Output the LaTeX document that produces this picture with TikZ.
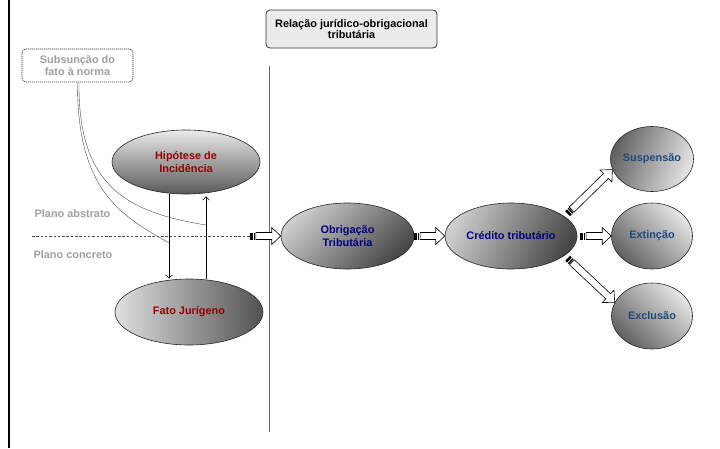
\documentclass[tikz,border=0pt]{standalone}
\usepackage{fontspec}
\setmainfont{Liberation Sans}
\usetikzlibrary{shapes.geometric,calc,decorations.markings,arrows.meta}
\definecolor{hiptext}{HTML}{990000}
\definecolor{obtext}{HTML}{000080}
\definecolor{exttext}{HTML}{1F497D}
\definecolor{softgray}{HTML}{A0A0A0}
\begin{document}
\begin{tikzpicture}[x=1pt,y=-1pt,
  txt/.style={font=\fontsize{10.9}{13}\selectfont\bfseries, align=center},
  ell/.style={ellipse, draw=black!85, line width=0.6pt, inner sep=0pt, txt},
  thinarrow/.style={draw=black, line width=0.6pt, -{Straight Barb[length=3.5pt,width=7pt]}},
  curveline/.style={draw=black!70, line width=0.4pt},
  stripearrow/.style={
    decoration={markings, mark=at position 0pt with {
      \pgfmathsetmacro{\arrlen}{\pgfdecoratedpathlength}
      \fill[black] (0pt,-3.5pt) rectangle (2.6pt,3.5pt);
      \fill[black] (3.6pt,-3.5pt) rectangle (5pt,3.5pt);
      \draw[black, line width=0.6pt, fill=white, line join=miter]
        (5.8pt,-3.5pt) -- ({\arrlen pt-9pt},-3.5pt) -- ({\arrlen pt-9pt},-8.5pt)
        -- ({\arrlen pt},0pt) -- ({\arrlen pt-9pt},8.5pt) -- ({\arrlen pt-9pt},3.5pt)
        -- (5.8pt,3.5pt) -- cycle;
    }},
    postaction={decorate}}
]
\useasboundingbox (0,0) rectangle (720,448);
\fill[white] (0,0) rectangle (720,448);

% left border and divider
\coordinate (lt) at (9,0);
\coordinate (lb) at (9,448);
\draw[line width=2pt] (lt) -- (lb);
\coordinate (vt) at (269,66);
\coordinate (vb) at (269,432);
\draw[black!60, line width=0.8pt] (vt) -- (vb);

% title
\node[draw=black!80, fill=black!8, rounded corners=4pt, minimum width=171pt,
      minimum height=38pt, line width=0.8pt,
      font=\fontsize{10.9}{11.5}\selectfont\bfseries, align=center]
      (title) at (351.5,29) {Relação jurídico-obrigacional\\tributária};

% subsuncao box
\node[txt, text=softgray, draw=black!80, line width=0.7pt, dash pattern=on 1.2pt off 0.8pt,
      rounded corners=4pt, minimum width=111pt, minimum height=33pt,
      inner sep=0pt, font=\fontsize{10.9}{12}\selectfont\bfseries]
      (sub) at (77.5,65.5) {Subsunção do\\fato à norma};

% ellipses
\node[ell, minimum width=148pt, minimum height=64pt, top color=black!8,
      bottom color=black!65, text=hiptext] (hip) at (186,162) {Hipótese de\\Incidência};
\node[ell, minimum width=148pt, minimum height=66pt, left color=black!12,
      right color=black!68, text=hiptext] (fato) at (189,312) {Fato Jurígeno};
\node[ell, minimum width=133pt, minimum height=66pt, top color=black!20,
      bottom color=black!72, shading angle=45, text=obtext] (obl) at (347.5,236) {Obrigação\\Tributária};
\node[ell, minimum width=132pt, minimum height=66pt, top color=black!20,
      bottom color=black!72, shading angle=65, text=obtext] (cred) at (511,236) {Crédito tributário};
\node[ell, minimum width=83pt, minimum height=65pt, top color=black!10,
      bottom color=black!62, shading angle=-110, text=exttext] (susp) at (652,159) {Suspensão};
\node[ell, minimum width=81pt, minimum height=66pt, top color=black!10,
      bottom color=black!62, shading angle=-45, text=exttext] (ext) at (652,236) {Extinção};
\node[ell, minimum width=81pt, minimum height=66pt, top color=black!10,
      bottom color=black!62, shading angle=-45, text=exttext] (excl) at (652,316) {Exclusão};

% plane labels
\node[txt, text=softgray] (pa) at (72.5,214) {Plano abstrato};
\node[txt, text=softgray] (pc) at (73,255) {Plano concreto};

% vertical thin arrows
\coordinate (xa) at (169,0);
\coordinate (xb) at (206,0);
\draw[thinarrow] (hip.south -| xa) -- (fato.north -| xa);
\draw[thinarrow, shorten >=2pt] (fato.north -| xb) -- (hip.south -| xb);

% subsuncao curves
\coordinate (ca) at (169,243);
\coordinate (cb) at (206,225);
\draw[curveline] (sub.south) .. controls (77,190) and (120,215) .. (ca);
\draw[curveline] ($(sub.south)+(1.5,0)$) .. controls (78,185) and (125,212) .. (cb);

% dashed plane line
\coordinate (dl) at (32,236);
\coordinate (da) at (250,236);
\draw[black!70, line width=0.8pt, dash pattern=on 2.5pt off 1.8pt] (dl) -- (da);

% striped block arrows
\path[stripearrow] (da) -- (obl.west);
\path[stripearrow] (obl.east) -- (cred.west);
\path[stripearrow] ($(cred.east)+(3,0)$) -- (ext.west);
\path[stripearrow] ($(cred.20)!4pt!(susp.195)$) -- (susp.195);
\path[stripearrow] ($(cred.-20)!4pt!(excl.160)$) -- (excl.160);
\end{tikzpicture}
\end{document}
